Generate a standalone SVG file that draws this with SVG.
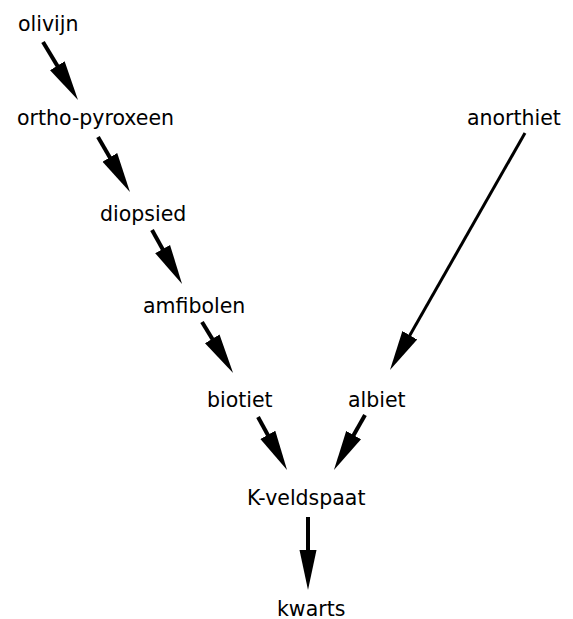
<svg xmlns="http://www.w3.org/2000/svg" width="573" height="619" viewBox="0 0 573 619">
<style>
text{font-family:"DejaVu Sans","Liberation Sans",sans-serif;font-size:20.5px;fill:#000}
.c line{stroke:#000;stroke-width:4;stroke-linecap:butt}
.c line.thin{stroke-width:3}
</style>
<defs>
<marker id="ah" markerUnits="userSpaceOnUse" viewBox="-22 -10 42 20" refX="0" refY="0" markerWidth="42" markerHeight="20" orient="auto">
<path d="M-22,-8.5 L18,0 L-22,8.5 z" fill="#000"/>
</marker>
</defs>
<rect width="573" height="619" fill="#fff"/>
<g id="olivijn"><text x="18" y="31">olivijn</text></g>
<g id="ortho-pyroxeen"><text x="17" y="125">ortho-pyroxeen</text></g>
<g id="diopsied"><text x="100" y="221">diopsied</text></g>
<g id="amfibolen"><text x="143" y="313">amfibolen</text></g>
<g id="biotiet"><text x="207" y="407">biotiet</text></g>
<g id="albiet"><text x="348" y="407">albiet</text></g>
<g id="anorthiet"><text x="467" y="125">anorthiet</text></g>
<g id="K-veldspaat"><text x="247" y="505">K-veldspaat</text></g>
<g id="kwarts"><text x="277" y="616">kwarts</text></g>
<g class="c" id="connectors">
<line x1="43" y1="42" x2="68.7" y2="84.6" marker-end="url(#ah)"/>
<line x1="98" y1="137" x2="120.9" y2="176.4" marker-end="url(#ah)"/>
<line x1="152" y1="230" x2="173.3" y2="268.3" marker-end="url(#ah)"/>
<line x1="202" y1="322" x2="223.7" y2="357.6" marker-end="url(#ah)"/>
<line x1="258" y1="417" x2="278.4" y2="454.2" marker-end="url(#ah)"/>
<line x1="365" y1="415" x2="342.8" y2="454.3" marker-end="url(#ah)"/>
<line x1="308" y1="517" x2="308" y2="572" marker-end="url(#ah)"/>
<line class="thin" x1="525" y1="133" x2="398.9" y2="354.4" marker-end="url(#ah)"/>
</g>
</svg>
